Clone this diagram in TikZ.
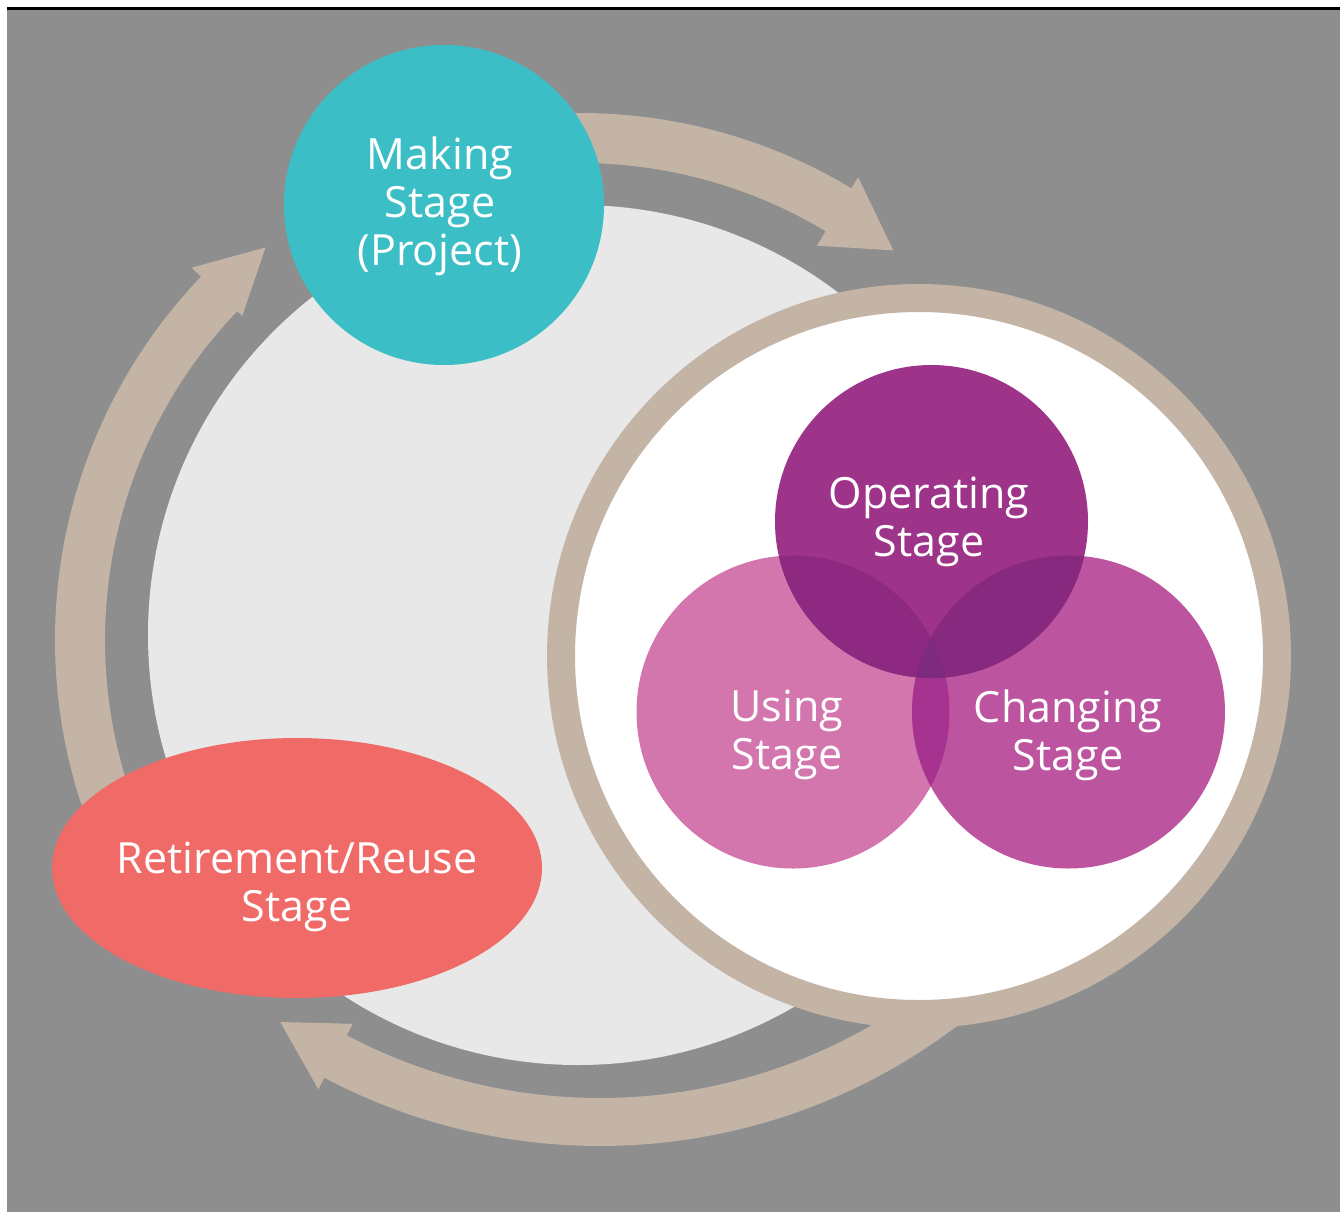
\documentclass[tikz,border=0pt]{standalone}
\usepackage{fontspec}
\newfontfamily\labelfont{Open Sans}
\definecolor{bgcol}{HTML}{8E8E8E}
\definecolor{diskcol}{HTML}{E8E8E8}
\definecolor{tancol}{HTML}{C4B4A6}
\definecolor{makingcol}{HTML}{3BBEC6}
\definecolor{retirecol}{HTML}{F06B67}
\definecolor{opcol}{HTML}{9D3489}
\definecolor{usecol}{HTML}{D376AD}
\definecolor{chgcol}{HTML}{BC549F}
\definecolor{usechgcol}{HTML}{A6338F}
\definecolor{opusecol}{HTML}{8D2980}
\definecolor{opchgcol}{HTML}{87297F}
\definecolor{allcol}{HTML}{7E2A80}
\begin{document}
\begin{tikzpicture}[x=0.5pt,y=-0.5pt,
  stagetext/.style={text=white, font=\labelfont\fontsize{21.5}{24}\selectfont, align=center, inner sep=0pt},
  flow/.style={draw=tancol, line width=25pt},
  flowhead/.style={fill=tancol}]
\useasboundingbox (0,0) rectangle (1340,1212);
\fill[white] (0,0) rectangle (1340,1212);
\fill[bgcol] (7,7) rectangle (1340,1212);
\fill[black] (7,7) rectangle (1340,10);
\coordinate (cyc) at (580,640);
\coordinate (cycb) at (600,555);
% light disk
\fill[diskcol] (578,635) circle[radius=430];
% top arrow
\draw[flow] ([shift={(-100:502)}]cyc) arc[start angle=-100, end angle=-58.5, radius=502];
\fill[flowhead] ([shift={(-59:460)}]cyc) -- ([shift={(-59:540)}]cyc) -- ([shift={(-51.2:500)}]cyc) -- cycle;
% left arrow
\draw[flow] ([shift={(-203:500)}]cyc) arc[start angle=-203, end angle=-135.7, radius=500];
\fill[flowhead] ([shift={(-136.2:468)}]cyc) -- ([shift={(-136.2:538)}]cyc) -- ([shift={(-128.7:503)}]cyc) -- cycle;
% bottom arrow
\draw[flow, line width=24pt] ([shift={(-312:567)}]cycb) arc[start angle=-312, end angle=-241.7, radius=567];
\fill[flowhead] ([shift={(-242.2:530)}]cycb) -- ([shift={(-242.2:604)}]cycb) -- ([shift={(-235.6:566)}]cycb) -- cycle;
% making
\fill[makingcol] (444,205) circle[radius=160];
% retirement
\fill[retirecol] (297,868) ellipse[x radius=245, y radius=130];
% ring
\draw[draw=tancol, line width=14pt, fill=white] (919,656) circle[radius=358];
% venn
\coordinate (uc) at (793,712);
\coordinate (cc) at (1068.5,712);
\coordinate (oc) at (931.5,521.5);
\fill[usecol] (uc) circle[radius=156.5];
\fill[chgcol] (cc) circle[radius=156.5];
\fill[opcol] (oc) circle[radius=156.5];
\begin{scope}
  \clip (uc) circle[radius=156.5];
  \fill[usechgcol] (cc) circle[radius=156.5];
\end{scope}
\begin{scope}
  \clip (oc) circle[radius=156.5];
  \fill[opusecol] (uc) circle[radius=156.5];
\end{scope}
\begin{scope}
  \clip (oc) circle[radius=156.5];
  \fill[opchgcol] (cc) circle[radius=156.5];
\end{scope}
\begin{scope}
  \clip (oc) circle[radius=156.5];
  \clip (uc) circle[radius=156.5];
  \fill[allcol] (cc) circle[radius=156.5];
\end{scope}
% labels
\node[stagetext] (making) at (440,206) {Making\\Stage\\(Project)};
\node[stagetext] (operating) at (929,522) {Operating\\Stage};
\node[stagetext] (using) at (787,735) {Using\\Stage};
\node[stagetext] (changing) at (1068,735) {Changing\\Stage};
\node[stagetext] (retire) at (297,887) {Retirement/Reuse\\Stage};
\end{tikzpicture}
\end{document}
